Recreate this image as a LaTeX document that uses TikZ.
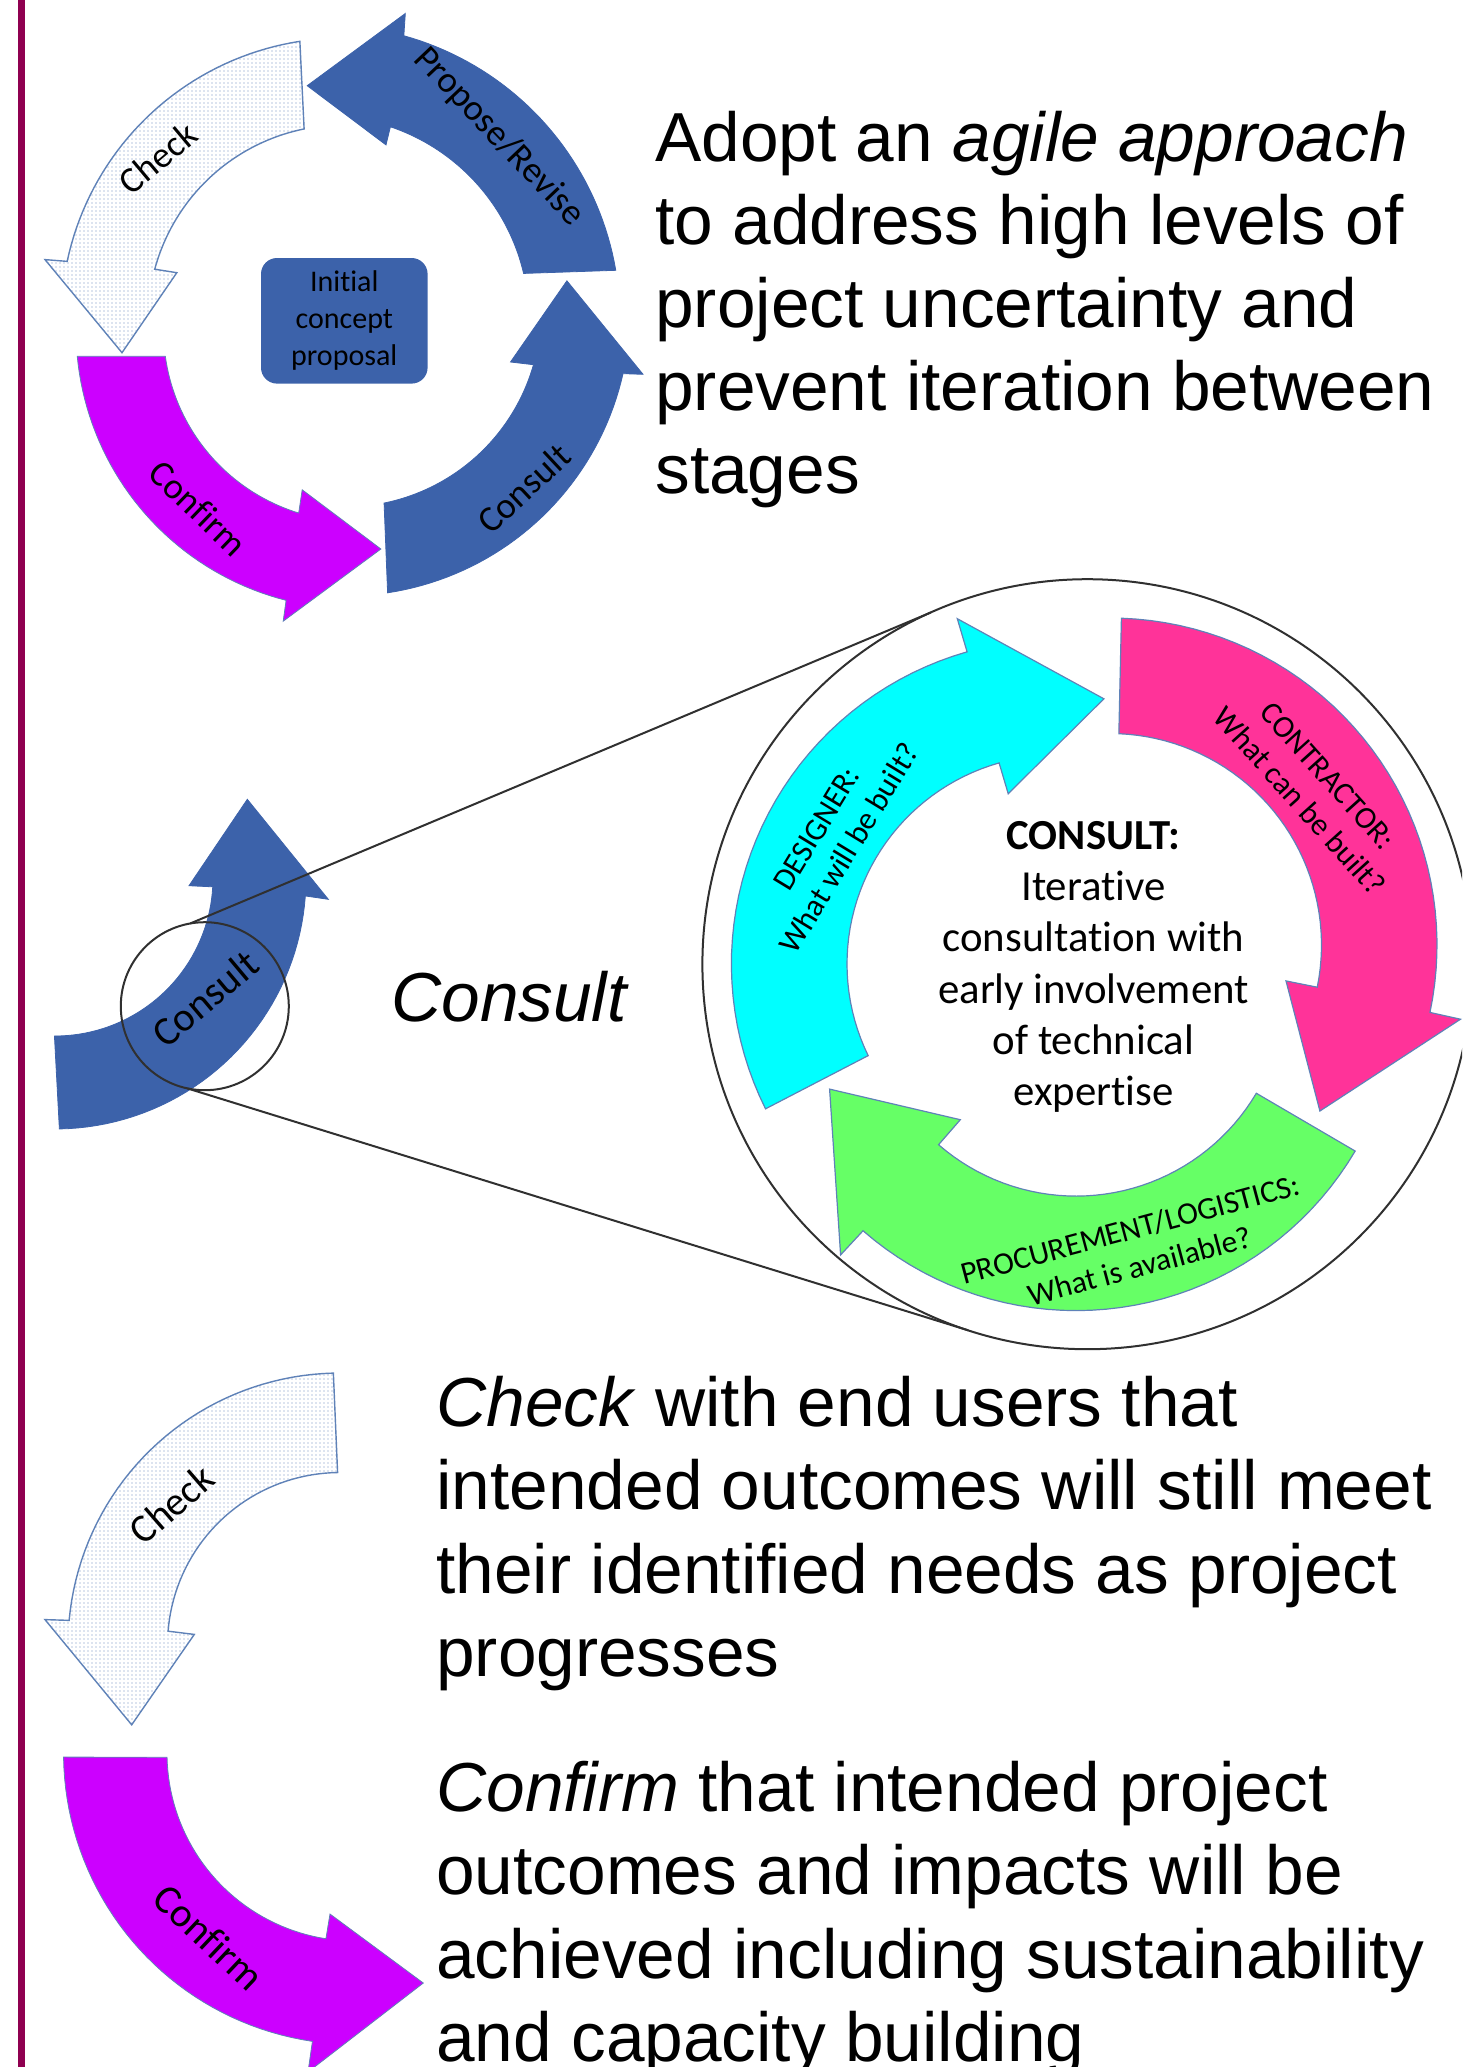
\documentclass[tikz,border=0pt]{standalone}
\usepackage{fontspec}
\setmainfont{Liberation Sans}
\newfontfamily\carl[Ligatures=CommonOff]{Carlito}
\usetikzlibrary{patterns.meta}
\definecolor{barcol}{HTML}{8F0050}
\definecolor{blueA}{HTML}{3C62AA}
\definecolor{edgeA}{HTML}{5F82B8}
\definecolor{violetA}{HTML}{CC00FF}
\definecolor{cyanA}{HTML}{00FFFF}
\definecolor{pinkA}{HTML}{FF3399}
\definecolor{greenA}{HTML}{66FF66}
\definecolor{lineA}{HTML}{303030}
\newcommand{\curvedarrow}[9]{\path[#1] plot[domain=#5:#6,samples=40] ({#2+#4*cos(\x)},{#3+#4*sin(\x)}) #7 -- plot[domain=#9,samples=40] ({#2+#8*cos(\x)},{#3+#8*sin(\x)}) -- cycle;}
\tikzset{
  bluearrow/.style={fill=blueA,draw=blueA,line width=0.4pt,line join=miter},
  checkarrow/.style={draw=edgeA,line width=0.7pt,line join=miter,preaction={fill=white},
     pattern={Dots[distance=2pt,radius=0.42pt]},pattern color=edgeA!42},
  violetarrow/.style={fill=violetA,draw=edgeA,line width=0.4pt,line join=miter},
  cyanarrow/.style={fill=cyanA,draw=edgeA,line width=0.6pt,line join=miter},
  pinkarrow/.style={fill=pinkA,draw=edgeA,line width=0.6pt,line join=miter},
  greenarrow/.style={fill=greenA,draw=edgeA,line width=0.6pt,line join=miter},
  arrowlabel/.style={font=\carl\fontsize{#1}{#1}\selectfont,inner sep=0pt,text=black},
  twolabel/.style={font=\carl\fontsize{15.7}{19}\selectfont,inner sep=0pt,align=center,text=black},
  bodytext/.style={font=\fontsize{34.7}{41.6}\selectfont,inner sep=0pt,align=left,anchor=north west,text=black},
  lens/.style={circle,draw=lineA,line width=1pt,inner sep=0pt,outer sep=0pt},
  tangent/.style={draw=lineA,line width=1pt}
}
\begin{document}
\begin{tikzpicture}[x=0.5pt,y=-0.5pt]
\useasboundingbox (0,0) rectangle (1462,2067);
\clip (0,0) rectangle (1462,2067);
\fill[barcol] (17.7,0) rectangle (25,2067);

% top ring
\curvedarrow{checkarrow}{343}{320}{282}{261.2}{192}{-- (45,259.6) -- (122,352.7) -- (176.8,272.7)}{195}{195.1:258.5}
\curvedarrow{bluearrow}{325}{320}{295}{-9.7}{-74.5}{-- (405.3,13.5) -- (307.2,85.7) -- (386,144.9)}{204}{-71.3:-13.2}
\curvedarrow{bluearrow}{345}{311}{285}{81.4}{12.7}{-- (643,374.3) -- (566.9,280.8) -- (510.5,362)}{196}{15.9:78.5}
\curvedarrow{violetarrow}{355}{330}{279}{174.6}{104.3}{-- (283.2,621.2) -- (380.9,549) -- (302.2,489.8)}{191.5}{107.1:172.1}

\node[arrowlabel=18.3,rotate=40] (lcheck) at (158,158) {Check};
\node[arrowlabel=18.3,rotate=-46.5] (lpropose) at (499,137) {Propose/Revise};
\node[arrowlabel=18.3,rotate=-44] (lconfirm) at (198.5,508) {Confirm};
\node[arrowlabel=18.3,rotate=43] (lconsult) at (524,488) {Consult};
\node[fill=blueA,rounded corners=8pt,minimum width=83.3pt,minimum height=62.8pt,inner sep=0pt,align=center,font=\carl\fontsize{15}{18.5}\selectfont] (initial) at (344.3,320.8) {Initial\\concept\\proposal};

\node[bodytext] (adopt) at (655,110.5) {Adopt an \textit{agile approach}\\to address high levels of\\project uncertainty and\\prevent iteration between\\stages};

% middle left
\curvedarrow{bluearrow}{55}{878}{251}{89}{4.1}{-- (328.3,899.3) -- (247.3,799.3) -- (189,885.7)}{158}{3.2:90.2}
\node[arrowlabel=20.3,rotate=40] (mconsult) at (205,998.3) {Consult};
\node[lens,minimum size=84pt] (small) at (204.8,1006.2) {};
\node[inner sep=0pt,anchor=base west,font=\fontsize{34.7}{41.6}\selectfont\itshape] (consulttxt) at (391,1021) {Consult};

% big circle
\node[lens,minimum size=385pt] (big) at (1087.4,964.2) {};
\draw[tangent] (small.100) -- (big.114);
\draw[tangent] (small.-102) -- (big.-108);

\curvedarrow{cyanarrow}{1056}{964}{324.6}{153.5}{254.1}{-- (957.3,618.7) -- (1103.9,698.8) -- (1008.2,793.7)}{209}{254.2:154}
\curvedarrow{pinkarrow}{1110}{945}{327}{-88}{11.9}{-- (1460.5,1019.2) -- (1319.9,1111) -- (1286,980.9)}{211.5}{11.5:-87.6}
\curvedarrow{greenarrow}{1076}{986.6}{324}{30.5}{131.1}{-- (840.6,1254.9) -- (829.6,1089.1) -- (960.3,1119.7)}{209.5}{131:30.6}

\node[twolabel,rotate=58.7] (ldesigner) at (833,838.5) {DESIGNER:\\What will be built?};
\node[twolabel,rotate=-48] (lcontractor) at (1313.5,788.7) {CONTRACTOR:\\What can be built?};
\node[twolabel,rotate=15] (lprocure) at (1135,1247.5) {PROCUREMENT/LOGISTICS:\\What is available?};
\node[inner sep=0pt,align=center,font=\carl\fontsize{21.4}{25.6}\selectfont] (center) at (1093.5,967) {\textbf{CONSULT:}\\Iterative\\consultation with\\early involvement\\of technical\\expertise};

% bottom
\curvedarrow{checkarrow}{340}{1645}{272}{268.6}{185.2}{-- (45,1619.6) -- (131.7,1724.8) -- (194.3,1634.4)}{172.5}{184.6:269.2}
\node[arrowlabel=20,rotate=41] (bcheck) at (171.7,1504.6) {Check};
\curvedarrow{violetarrow}{355}{1753}{291.5}{179.2}{98.4}{-- (308,2072) -- (423.3,1983) -- (330,1914)}{188}{98.9:178.7}
\node[arrowlabel=20.5,rotate=-43.5] (bconfirm) at (209,1937) {Confirm};

\node[bodytext] (checktxt) at (436,1376) {\textit{Check} with end users that\\intended outcomes will still meet\\their identified needs as project\\progresses};
\node[bodytext] (confirmtxt) at (436,1761) {\textit{Confirm} that intended project\\outcomes and impacts will be\\achieved including sustainability\\and capacity building};
\end{tikzpicture}
\end{document}
